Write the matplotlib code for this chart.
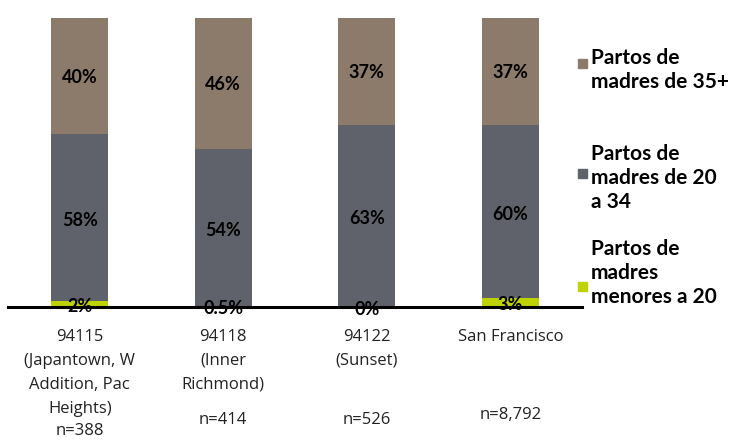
import matplotlib.pyplot as plt
from matplotlib.patches import Rectangle

# data
categories = ["94115\n(Japantown, W\nAddition, Pac\nHeights)",
              "94118\n(Inner\nRichmond)",
              "94122\n(Sunset)",
              "San Francisco"]
sample_sizes = ["n=388", "n=414", "n=526", "n=8,792"]
under_20 = [2, 0.5, 0, 3]
age_20_34 = [58, 54, 63, 60]
age_35_plus = [40, 46, 37, 37]
under_20_labels = ["2%", "0.5%", "0%", "3%"]
age_20_34_labels = ["58%", "54%", "63%", "60%"]
age_35_plus_labels = ["40%", "46%", "37%", "37%"]
legend_labels = ["Partos de\nmadres de 35+",
                 "Partos de\nmadres de 20\na 34",
                 "Partos de\nmadres\nmenores a 20"]

c_green = "#bed200"
c_gray = "#5f626a"
c_brown = "#8c7a6b"

W, H = 734, 444
fig = plt.figure(figsize=(W / 100, H / 100), dpi=100)
ax = fig.add_axes([8 / W, (H - 307) / H, 574 / W, 289 / H])

x = list(range(len(categories)))
bottom2 = under_20
bottom3 = [a + b for a, b in zip(under_20, age_20_34)]

ax.bar(x, under_20, width=0.4, color=c_green, zorder=2)
ax.bar(x, age_20_34, width=0.4, bottom=bottom2, color=c_gray, zorder=2)
ax.bar(x, age_35_plus, width=0.4, bottom=bottom3, color=c_brown, zorder=2)

pct_font = dict(family="Lato", fontweight="bold", fontsize=13, color="black",
                ha="center", va="center", zorder=5, clip_on=False)
for i in x:
    ax.text(i, under_20[i] / 2 - 0.8, under_20_labels[i], **pct_font)
    ax.text(i, bottom2[i] + age_20_34[i] / 2 - 1, age_20_34_labels[i], **pct_font)
    ax.text(i, bottom3[i] + age_35_plus[i] / 2 - 0.5, age_35_plus_labels[i], **pct_font)

ax.set_xlim(-0.5, 3.5)
ax.set_ylim(0, 100)
ax.set_yticks([])
ax.set_xticks(x)
ax.set_xticklabels(categories, family="Open Sans", fontsize=12,
                   color="#222222", linespacing=1.68)
ax.tick_params(axis="x", length=0, pad=15.5)
for side in ["top", "right", "left"]:
    ax.spines[side].set_visible(False)
ax.spines["bottom"].set_linewidth(2.2)
ax.spines["bottom"].set_color("black")
ax.spines["bottom"].set_zorder(4)

# sample sizes under each label (pixel offsets below axis)
n_offsets = [124, 113, 113, 108]
for i in x:
    ax.annotate(sample_sizes[i], xy=(i, 0), xycoords=("data", "axes fraction"),
                xytext=(0, -n_offsets[i] * 0.72), textcoords="offset points",
                ha="center", va="center", family="Open Sans", fontsize=12,
                color="#222222")

# legend drawn by hand on the right
leg_colors = [c_brown, c_gray, c_green]
leg_text_y = [70, 178, 273]
leg_box_y = [64, 174, 286]
for lab, col, ty, by in zip(legend_labels, leg_colors, leg_text_y, leg_box_y):
    fig.patches.append(Rectangle((578 / W, (H - by - 4.5) / H), 9 / W, 9 / H,
                                 transform=fig.transFigure, color=col))
    fig.text(591 / W, (H - ty) / H, lab, family="Lato", fontweight="bold",
             fontsize=15, va="center", ha="left", linespacing=1.22,
             color="black")

fig.savefig("out.png", dpi=100)
